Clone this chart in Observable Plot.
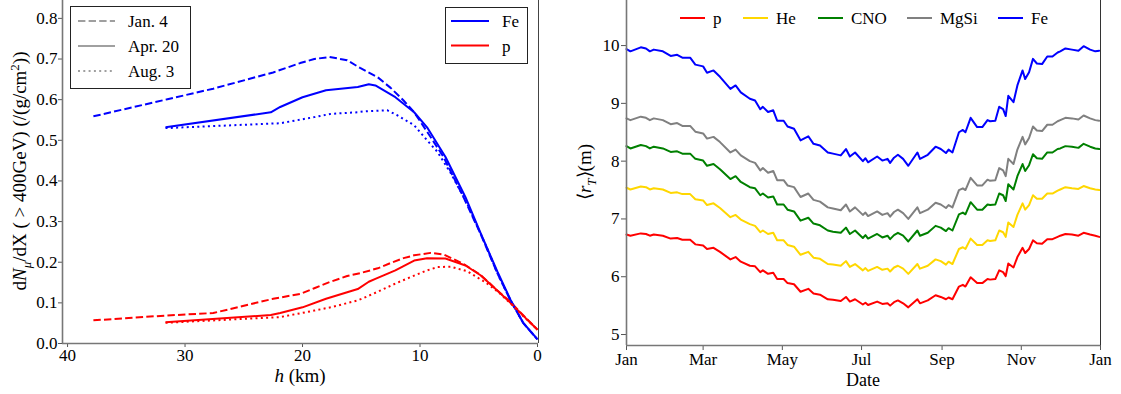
<!DOCTYPE html>
<html><head><meta charset="utf-8">
<script src="https://cdn.jsdelivr.net/npm/d3@7"></script>
<script src="https://cdn.jsdelivr.net/npm/@observablehq/plot@0.6"></script>
<style>
html,body{margin:0;padding:0;background:#fff;}
#wrap{display:flex;width:1121px;height:394px;overflow:hidden;}
#wrap svg, #wrap svg text, #wrap svg tspan { font-family: "Liberation Serif", "Times New Roman", serif !important; }
</style></head>
<body><div id="wrap"></div>
<script>
// ---------- Left panel data: dN/dX vs altitude h (km) ----------
const dateLabels = ["Jan. 4", "Apr. 20", "Aug. 3"];
const species = ["Fe", "p"];
const hJan = [37.8, 31.5, 27.6, 22.5, 20.2, 19.0, 17.7, 16.2, 15.1, 13.6, 12.5, 11.4, 10.5, 9.1, 8.0, 6.3, 4.85, 3.4, 2.3, 1.2, 0];
const feJan = [0.559, 0.601, 0.627, 0.667, 0.690, 0.700, 0.705, 0.697, 0.678, 0.655, 0.629, 0.598, 0.569, 0.508, 0.459, 0.360, 0.270, 0.172, 0.106, 0.050, 0.010];
const pJan = [0.057, 0.069, 0.075, 0.110, 0.122, 0.136, 0.151, 0.166, 0.173, 0.185, 0.198, 0.210, 0.217, 0.223, 0.219, 0.196, 0.169, 0.130, 0.102, 0.069, 0.034];
const hApr = [31.66, 22.7, 21.9, 20.0, 18.0, 15.3, 14.36, 13.8, 12.1, 10.5, 9.4, 7.83, 6.13, 4.85, 3.4, 2.3, 1.2, 0];
const feApr = [0.532, 0.569, 0.582, 0.606, 0.623, 0.631, 0.638, 0.635, 0.606, 0.569, 0.532, 0.459, 0.360, 0.272, 0.176, 0.108, 0.050, 0.010];
const pApr = [0.052, 0.070, 0.075, 0.089, 0.110, 0.134, 0.152, 0.159, 0.180, 0.204, 0.210, 0.209, 0.192, 0.168, 0.130, 0.100, 0.068, 0.034];
const hAug = [31.66, 21.9, 19.0, 17.6, 15.3, 14.8, 13.4, 12.8, 11.9, 10.5, 9.4, 8.5, 7.4, 6.0, 4.3, 3.4, 2.3, 1.2, 0];
const feAug = [0.530, 0.542, 0.557, 0.565, 0.569, 0.571, 0.573, 0.574, 0.561, 0.537, 0.500, 0.471, 0.420, 0.345, 0.235, 0.172, 0.106, 0.050, 0.010];
const pAug = [0.051, 0.065, 0.081, 0.089, 0.106, 0.112, 0.130, 0.138, 0.150, 0.167, 0.180, 0.188, 0.189, 0.178, 0.148, 0.128, 0.099, 0.067, 0.034];
const hTicks = [40, 30, 20, 10, 0];
const yTicksL = [0, 0.1, 0.2, 0.3, 0.4, 0.5, 0.6, 0.7, 0.8];

// ---------- Right panel data: <r_T> vs date ----------
const dayOfYear = [0,3,11,15,18,21,28,34,39,43,49,53,59,62,67,72,80,84,88,95,99,103,105,109,113,116,121,124,129,134,140,144,149,155,159,165,169,172,176,182,184,186,193,197,201,203,206,209,213,217,224,226,232,238,242,246,248,251,256,259,261,265,270,274,278,280,284,287,290,292,294,298,301,305,307,310,313,316,320,324,328,332,334,338,343,348,352,357,361,364];
const rFe = [9.94,9.90,9.97,9.95,9.90,9.93,9.90,9.82,9.84,9.79, 9.79,9.67,9.64,9.53,9.57,9.46,9.25,9.31,9.19,9.08, 9.05,8.90,8.94,8.85,8.88,8.70,8.70,8.60,8.56,8.36, 8.43,8.30,8.27,8.15,8.13,8.10,8.21,8.08,8.15,8.00, 8.05,7.98,8.08,8.01,8.04,7.97,8.06,8.11,8.04,7.92, 8.15,8.04,8.11,8.25,8.21,8.14,8.20,8.15,8.50,8.54, 8.50,8.75,8.59,8.59,8.71,8.69,8.70,8.94,8.90,8.78, 9.13,9.02,9.31,9.57,9.42,9.54,9.77,9.69,9.68,9.81, 9.81,9.88,9.90,9.95,9.93,9.91,9.99,9.93,9.90,9.91];
const rP = [6.73,6.71,6.75,6.74,6.71,6.73,6.71,6.66,6.67,6.64, 6.64,6.56,6.54,6.48,6.50,6.43,6.30,6.34,6.26,6.19, 6.18,6.08,6.11,6.05,6.07,5.96,5.96,5.89,5.87,5.74, 5.79,5.71,5.69,5.61,5.60,5.58,5.65,5.57,5.61,5.52, 5.55,5.51,5.57,5.53,5.54,5.50,5.56,5.59,5.54,5.47, 5.61,5.54,5.59,5.68,5.65,5.61,5.64,5.61,5.83,5.86, 5.83,5.99,5.89,5.89,5.96,5.95,5.96,6.11,6.08,6.01, 6.23,6.16,6.34,6.50,6.41,6.48,6.63,6.58,6.57,6.65, 6.65,6.69,6.71,6.74,6.73,6.71,6.76,6.73,6.71,6.69];
const rHe = [7.54,7.51,7.56,7.55,7.51,7.53,7.51,7.45,7.46,7.43, 7.43,7.34,7.32,7.24,7.27,7.19,7.03,7.07,6.99,6.91, 6.88,6.77,6.80,6.74,6.76,6.63,6.63,6.55,6.52,6.38, 6.43,6.33,6.31,6.22,6.21,6.19,6.27,6.17,6.22,6.11, 6.15,6.10,6.17,6.12,6.14,6.09,6.16,6.19,6.14,6.05, 6.22,6.14,6.19,6.30,6.27,6.21,6.26,6.22,6.48,6.51, 6.48,6.66,6.55,6.55,6.63,6.62,6.63,6.80,6.77,6.69, 6.94,6.86,7.07,7.27,7.16,7.24,7.41,7.35,7.35,7.44, 7.44,7.49,7.51,7.55,7.53,7.52,7.57,7.53,7.51,7.50];
const rCNO = [8.26,8.22,8.28,8.26,8.22,8.25,8.22,8.16,8.17,8.13, 8.13,8.04,8.01,7.92,7.95,7.86,7.69,7.74,7.64,7.55, 7.53,7.41,7.44,7.37,7.39,7.25,7.25,7.16,7.13,6.97, 7.02,6.92,6.89,6.80,6.78,6.76,6.85,6.74,6.80,6.67, 6.72,6.66,6.74,6.68,6.71,6.65,6.72,6.76,6.71,6.61, 6.80,6.71,6.76,6.88,6.85,6.79,6.84,6.80,7.08,7.11, 7.08,7.29,7.16,7.16,7.25,7.24,7.25,7.44,7.41,7.31, 7.60,7.51,7.74,7.95,7.83,7.93,8.12,8.05,8.04,8.15, 8.15,8.21,8.22,8.26,8.25,8.23,8.30,8.25,8.22,8.21];
const rMgSi = [8.74,8.71,8.77,8.75,8.71,8.74,8.71,8.64,8.66,8.61, 8.61,8.51,8.48,8.39,8.42,8.33,8.15,8.20,8.10,8.00, 7.97,7.84,7.88,7.80,7.83,7.67,7.67,7.58,7.55,7.38, 7.44,7.33,7.30,7.20,7.18,7.15,7.25,7.13,7.20,7.07, 7.11,7.05,7.13,7.07,7.10,7.04,7.12,7.16,7.10,7.00, 7.20,7.10,7.16,7.28,7.25,7.19,7.24,7.20,7.50,7.53, 7.50,7.71,7.58,7.58,7.68,7.66,7.67,7.88,7.84,7.74, 8.04,7.95,8.20,8.42,8.29,8.40,8.60,8.53,8.52,8.63, 8.63,8.69,8.71,8.75,8.74,8.72,8.79,8.74,8.71,8.70];
const seriesR = ["p", "He", "CNO", "MgSi", "Fe"];
const colorsR = ["#ff0000", "#ffd700", "#008000", "#808080", "#0000ff"];
const yTicksR = [5, 6, 7, 8, 9, 10];

// ---------- build tables ----------
const leftRows = [];
const leftSets = [[hJan, feJan, pJan], [hApr, feApr, pApr], [hAug, feAug, pAug]];
leftSets.forEach(([h, fe, p], i) => {
  h.forEach((hv, j) => {
    leftRows.push({date: dateLabels[i], sp: "Fe", h: hv, v: fe[j]});
    leftRows.push({date: dateLabels[i], sp: "p", h: hv, v: p[j]});
  });
});
const dashes = {"Jan. 4": "7.4,3.2", "Apr. 20": null, "Aug. 3": "2,3.3"};
const spColor = {"Fe": "#0000ff", "p": "#ff0000"};

const rightVals = [rP, rHe, rCNO, rMgSi, rFe];
const rightRows = [];
seriesR.forEach((s, i) => {
  dayOfYear.forEach((d, j) => rightRows.push({s, date: new Date(Date.UTC(2015, 0, 1 + d)), v: rightVals[i][j]}));
});

const FONT = "'Liberation Serif', 'Times New Roman', serif";
const xDomL = [40.43, -0.085];
const yDomL = [0, 0.844];

// ---------- Left plot ----------
const leftMarks = [];
for (const dl of dateLabels) for (const sp of species) {
  leftMarks.push(Plot.line(leftRows.filter(r => r.date === dl && r.sp === sp), {
    x: "h", y: "v", stroke: spColor[sp], strokeWidth: 2,
    strokeDasharray: dashes[dl] || undefined, strokeLinecap: "butt"
  }));
}
const left = Plot.plot({
  width: 560, height: 394, marginLeft: 62, marginRight: 22, marginTop: 0, marginBottom: 51,
  style: {fontFamily: FONT, fontSize: "17px", color: "#000", background: "#fff"},
  x: {domain: xDomL, label: null},
  y: {domain: yDomL, label: null},
  marks: [
    Plot.axisX({ticks: hTicks, tickFormat: "d", tickSize: 4, tickPadding: 1, stroke: "#555", label: null}),
    Plot.axisY({ticks: yTicksL, tickFormat: ".1f", tickSize: 4, tickPadding: 1, stroke: "#555", label: null}),
    ...leftMarks,
    Plot.ruleX([xDomL[0]], {stroke: "#777", strokeWidth: 1.6}),
    Plot.ruleX([xDomL[1]], {stroke: "#444", strokeWidth: 1}),
    Plot.ruleY([yDomL[0]], {stroke: "#777", strokeWidth: 1.6})
  ]
});

// ---------- Right plot ----------
const xDomR = [new Date(Date.UTC(2015, 0, 1)), new Date(Date.UTC(2016, 0, 1))];
const yDomR = [4.81, 10.78];
const right = Plot.plot({
  width: 561, height: 394, marginLeft: 66, marginRight: 21, marginTop: 0, marginBottom: 49,
  style: {fontFamily: FONT, fontSize: "17px", color: "#000", background: "#fff"},
  x: {type: "utc", domain: xDomR, label: null},
  y: {domain: yDomR, label: null},
  color: {domain: seriesR, range: colorsR},
  marks: [
    Plot.axisX({ticks: d3.utcMonth.every(2), tickFormat: d3.utcFormat("%b"), tickSize: 5, tickPadding: 2, stroke: "#555", label: null}),
    Plot.axisY({ticks: yTicksR, tickFormat: "d", tickSize: 5, tickPadding: 2, stroke: "#555", label: null}),
    Plot.line(rightRows, {x: "date", y: "v", z: "s", stroke: "s", strokeWidth: 2}),
    Plot.ruleX([xDomR[0]], {stroke: "#777", strokeWidth: 1.6}),
    Plot.ruleX([xDomR[1]], {stroke: "#333", strokeWidth: 1}),
    Plot.ruleY([yDomR[0]], {stroke: "#777", strokeWidth: 1.6})
  ]
});

document.getElementById("wrap").append(left, right);

// ---------- Labels & legends ----------
function addText(svg, x, y, parts, opts = {}) {
  const t = d3.select(svg).append("text")
    .attr("x", x).attr("y", y)
    .attr("font-family", FONT).attr("font-size", opts.size || 17)
    .attr("text-anchor", opts.anchor || "start").attr("fill", "#000");
  if (opts.rotate) t.attr("transform", `rotate(-90 ${x} ${y})`);
  for (const p of parts) {
    const s = t.append("tspan").text(p.t);
    if (p.i) s.attr("font-style", "italic");
    if (p.dy) s.attr("dy", p.dy);
    if (p.fs) s.attr("font-size", p.fs);
  }
  return t;
}
// left axis labels
addText(left, 26, 171, [
  {t: "d"}, {t: "N", i: 1}, {t: "μ", i: 1, dy: 5, fs: 13}, {t: "/dX ( > 400GeV) (/(g/cm", dy: -5},
  {t: "2", dy: -7, fs: 13}, {t: "))", dy: 7}
], {anchor: "middle", rotate: true, size: 19});
addText(left, 300, 382, [{t: "h", i: 1}, {t: " (km)"}], {anchor: "middle", size: 19});
// right axis labels
addText(right, 31, 172, [{t: "⟨"}, {t: "r", i: 1}, {t: "T", i: 1, dy: 5, fs: 13}, {t: "⟩(m)", dy: -5}], {anchor: "middle", rotate: true, size: 19});
addText(right, 303, 386, [{t: "Date"}], {anchor: "middle", size: 18});

// left legend: line styles
{
  const g = d3.select(left).append("g").attr("text-anchor", "start");
  g.append("rect").attr("x", 70.5).attr("y", 6.5).attr("width", 120).attr("height", 82)
    .attr("fill", "#fff").attr("stroke", "#222").attr("stroke-width", 1);
  dateLabels.forEach((dl, i) => {
    const y = 21 + i * 25;
    const l = g.append("line").attr("x1", 78).attr("x2", 115).attr("y1", y).attr("y2", y)
      .attr("stroke", "#808080").attr("stroke-width", 1.6);
    if (dashes[dl]) l.attr("stroke-dasharray", dashes[dl]);
    g.append("text").attr("x", 128).attr("y", y + 6).attr("text-anchor", "start")
      .attr("font-family", FONT).attr("font-size", 17).text(dl);
  });
}
// left legend: species colours
{
  const g = d3.select(left).append("g").attr("text-anchor", "start");
  g.append("rect").attr("x", 445.5).attr("y", 7.5).attr("width", 82).attr("height", 56)
    .attr("fill", "#fff").attr("stroke", "#222").attr("stroke-width", 1);
  species.forEach((sp, i) => {
    const y = 21 + i * 24.5;
    g.append("line").attr("x1", 451).attr("x2", 489).attr("y1", y).attr("y2", y)
      .attr("stroke", spColor[sp]).attr("stroke-width", 2);
    g.append("text").attr("x", 502).attr("y", y + 6).attr("text-anchor", "start")
      .attr("font-family", FONT).attr("font-size", 17).text(sp);
  });
}
// right legend: horizontal
{
  const g = d3.select(right).append("g").attr("text-anchor", "start");
  const xs = [680, 743, 818, 907, 998].map(v => v - 560);
  seriesR.forEach((s, i) => {
    const y = 18;
    g.append("line").attr("x1", xs[i]).attr("x2", xs[i] + 25).attr("y1", y).attr("y2", y)
      .attr("stroke", colorsR[i]).attr("stroke-width", 2);
    g.append("text").attr("x", xs[i] + 33).attr("y", y + 6).attr("text-anchor", "start")
      .attr("font-family", FONT).attr("font-size", 17).text(s);
  });
}
</script></body></html>
